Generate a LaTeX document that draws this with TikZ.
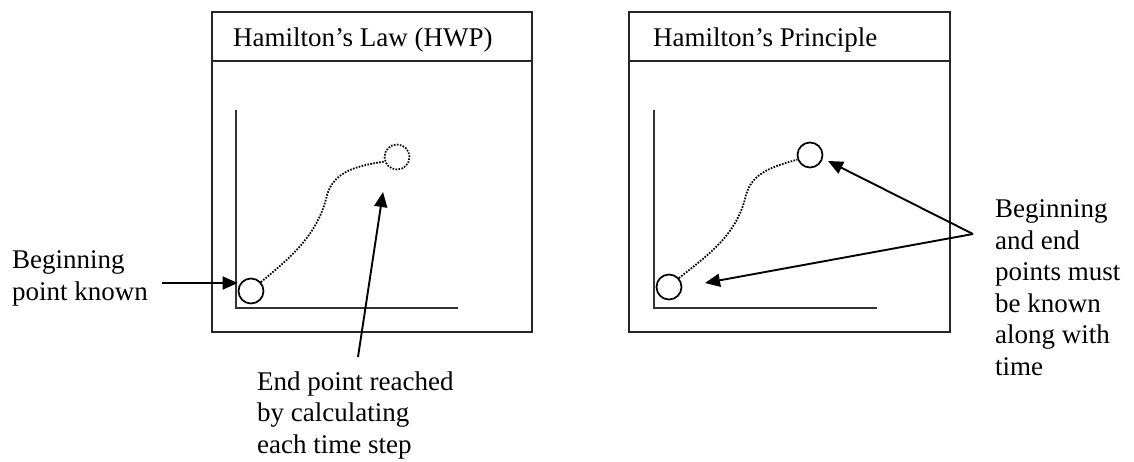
\documentclass[tikz,border=0pt]{standalone}
\usepackage{fontspec}
\setmainfont{Liberation Serif}
\usetikzlibrary{arrows.meta}
\tikzset{
  frame/.style={draw=black!85, line width=1.9pt},
  axis/.style={draw=black!80, line width=1.8pt},
  pt/.style={circle, draw, line width=1.7pt, minimum size=25pt, inner sep=0pt},
  ptdot/.style={pt, dash pattern=on 1.6pt off 1.4pt},
  path/.style={draw, line width=1.8pt, dash pattern=on 1.6pt off 1.4pt},
  arr/.style={draw, line width=1.9pt, -{Triangle[length=15pt,width=13pt]}},
  lbl/.style={font=\fontsize{27}{31.5}\selectfont, inner sep=0pt, align=left, anchor=base west},
}
\begin{document}
\begin{tikzpicture}[x=1pt,y=-1pt]
\useasboundingbox (0,0) rectangle (1134,462);
% left panel
\draw[frame] (212,12) rectangle (532,332);
\draw[frame] (212,61) -- (532,61);
\node[lbl] (t1) at (233,47) {Hamilton’s Law (HWP)};
\draw[axis] (236,110) -- (236,308) -- (458,308);
\node[pt] (s1) at (251,291) {};
\node[ptdot] (e1) at (397,157) {};
\draw[path] (s1.42) .. controls (290,258) and (318,235) .. (327,195) .. controls (334,172) and (355,166) .. (e1.200);
% right panel
\draw[frame] (629,12) rectangle (950,332);
\draw[frame] (629,61) -- (950,61);
\node[lbl] (t2) at (653,47) {Hamilton’s Principle};
\draw[axis] (654,110) -- (654,308) -- (877,308);
\node[pt] (s2) at (669,287) {};
\node[pt] (e2) at (810,155) {};
\draw[path] (s2.42) .. controls (708,255) and (737,235) .. (746,195) .. controls (752,172) and (775,166) .. (e2.200);
% labels (base anchor = baseline of last line)
\node[lbl] (bk) at (12,300) {Beginning\\point known};
\node[lbl] (ep) at (257,453) {End point reached\\by calculating\\each time step};
\node[lbl] (bm) at (995,375) {Beginning\\and end\\points must\\be known\\along with\\time};
% arrows
\coordinate (a1) at (162,283);
\draw[arr] (a1) -- (s1.west |- a1);
\coordinate (a2) at (358,357);
\coordinate (a2t) at (383,192);
\draw[arr] (a2) -- (a2t);
\coordinate (v) at (973,234);
\coordinate (tp1) at (828,161);
\coordinate (tp2) at (705,283);
\draw[arr] (v) -- (tp1);
\draw[arr] (v) -- (tp2);
\end{tikzpicture}
\end{document}
